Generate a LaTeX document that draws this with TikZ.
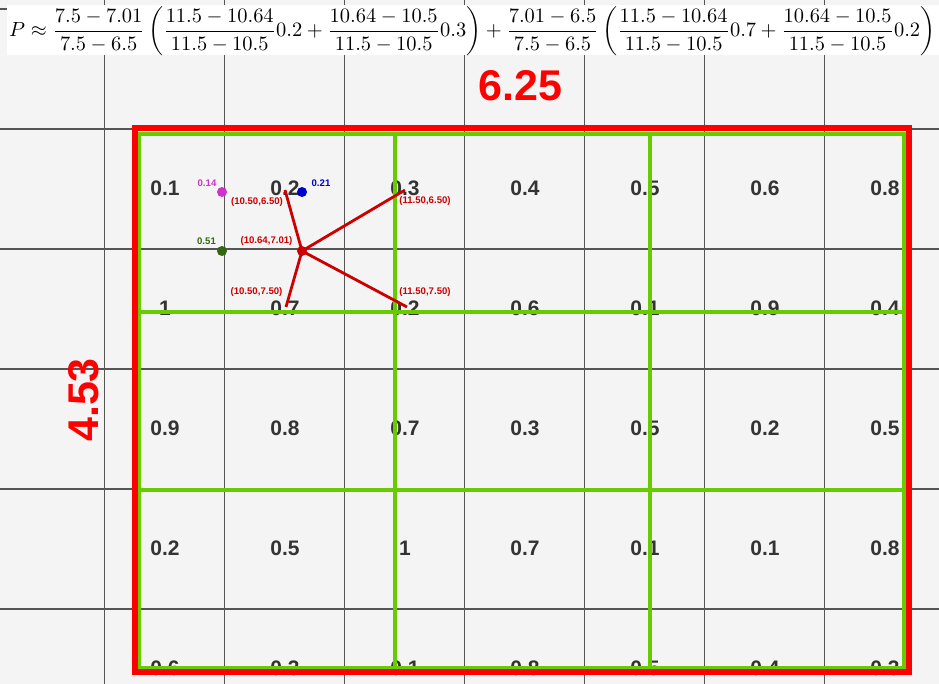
\documentclass[tikz,border=0pt]{standalone}
\usepackage{fontspec}
\usepackage{graphicx}
\newfontfamily\labfont{Liberation Sans}
\definecolor{bgc}{HTML}{F4F4F4}
\definecolor{gridc}{HTML}{555555}
\definecolor{valc}{HTML}{333333}
\definecolor{greenc}{HTML}{66CC00}
\definecolor{rectred}{HTML}{FF0000}
\definecolor{lred}{HTML}{CC0000}
\definecolor{magc}{HTML}{CC33CC}
\definecolor{bluec}{HTML}{0000CC}
\definecolor{dgreenc}{HTML}{336611}
\begin{document}
\begin{tikzpicture}[x=1pt,y=-1pt,
  gridline/.style={draw=gridc,line width=1.6pt},
  valtext/.style={text=valc,inner sep=0pt,font=\labfont\bfseries\fontsize{21}{21}\selectfont},
  greenline/.style={draw=greenc,line width=4pt},
  redrect/.style={draw=rectred,line width=6pt},
  redline/.style={draw=lred,line width=2.8pt},
  dotmark/.style={circle,inner sep=0pt,minimum size=10pt},
  smalltext/.style={inner sep=0pt,font=\labfont\bfseries\fontsize{9.6}{9.6}\selectfont},
  bigtext/.style={text=rectred,inner sep=0pt,font=\labfont\bfseries\fontsize{43}{43}\selectfont}]
\useasboundingbox (0,0) rectangle (939,684);
\fill[bgc] (0,0) rectangle (939,684);
% grid
\foreach \x in {104.5,224.5,344.5,464.5,584.5,704.5,824.5}
  \draw[gridline] (\x,0) -- (\x,684);
\foreach \y in {9,129,249,369,489,609}
  \draw[gridline] (0,\y) -- (939,\y);
% formula band
\fill[white] (7,5) rectangle (939,55);
\node[inner sep=0pt,anchor=west] (formula) at (9,31)
  {\resizebox{926pt}{!}{$\displaystyle P\approx\frac{7.5-7.01}{7.5-6.5}\left(\frac{11.5-10.64}{11.5-10.5}0.2+\frac{10.64-10.5}{11.5-10.5}0.3\right)+\frac{7.01-6.5}{7.5-6.5}\left(\frac{11.5-10.64}{11.5-10.5}0.7+\frac{10.64-10.5}{11.5-10.5}0.2\right)$}};
% values
\foreach \row [count=\r] in {{0.1,0.2,0.3,0.4,0.5,0.6,0.8},{1,0.7,0.2,0.6,0.1,0.9,0.4},{0.9,0.8,0.7,0.3,0.5,0.2,0.5},{0.2,0.5,1,0.7,0.1,0.1,0.8},{0.6,0.3,0.1,0.8,0.5,0.4,0.3}}{
  \foreach \v [count=\c] in \row {
    \node[valtext] (v\r\c) at (45+120*\c,68+120*\r) {\v};
  }
}
% green cells
\draw[greenline] (139,134) rectangle (904,668);
\draw[greenline] (395,134) -- (395,668);
\draw[greenline] (650,134) -- (650,668);
\draw[greenline] (139,312) -- (904,312);
\draw[greenline] (139,490) -- (904,490);
% red rectangle
\draw[redrect] (134.5,128.5) rectangle (908.5,672);
% interpolation point and lines
\coordinate (e1) at (285,190);
\coordinate (e2) at (405,190);
\coordinate (e3) at (286,307);
\coordinate (e4) at (407,307);
\node[dotmark,fill=lred] (c) at (302,251) {};
\foreach \e in {e1,e2,e3,e4} \draw[redline] (c.center) -- (\e);
\node[dotmark,fill=magc] (dm) at (222,192) {};
\node[dotmark,fill=bluec] (db) at (302,192) {};
\node[dotmark,fill=dgreenc] (dg) at (222,251) {};
% small labels
\node[smalltext,text=magc] (lm) at (207,183.5) {0.14};
\node[smalltext,text=bluec] (lb) at (321,183.5) {0.21};
\node[smalltext,text=dgreenc] (lg) at (206.5,241) {0.51};
\node[smalltext,text=lred] (l1) at (257,202) {(10.50,6.50)};
\node[smalltext,text=lred] (lc) at (266.5,241) {(10.64,7.01)};
\node[smalltext,text=lred] (l2) at (425,201.5) {(11.50,6.50)};
\node[smalltext,text=lred] (l3) at (256.5,292) {(10.50,7.50)};
\node[smalltext,text=lred] (l4) at (425,292) {(11.50,7.50)};
% dimensions
\node[bigtext] (wlab) at (520.5,86) {6.25};
\node[bigtext,rotate=90] (hlab) at (84,400) {4.53};
\end{tikzpicture}
\end{document}
